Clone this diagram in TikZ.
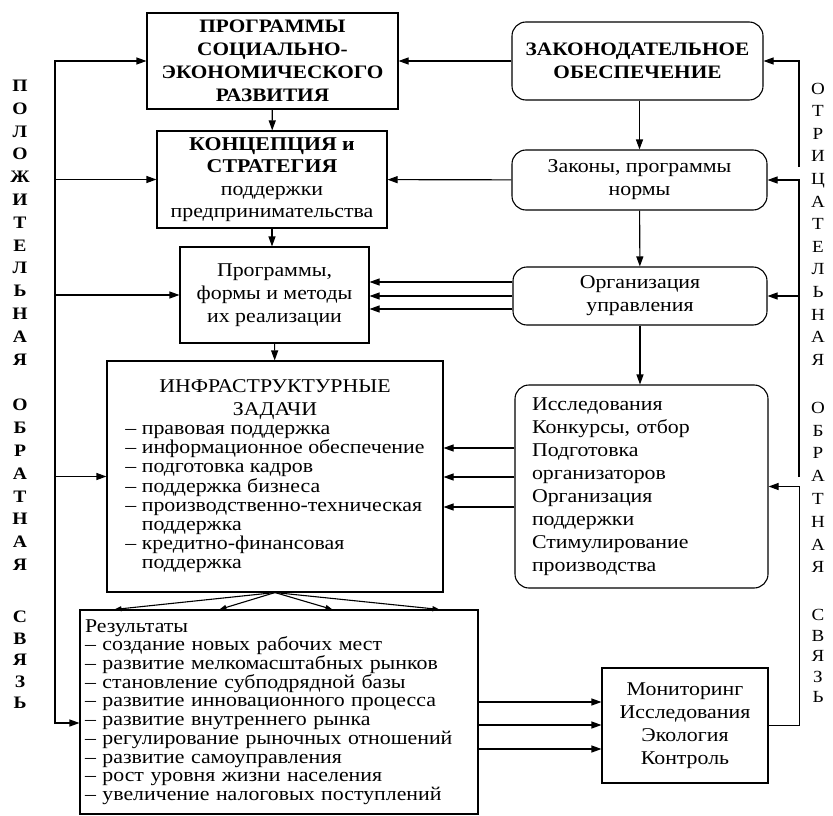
\documentclass[tikz,border=0pt]{standalone}
\usepackage{fontspec}
\setmainfont[FakeStretch=1.12]{Liberation Serif}
\usetikzlibrary{arrows.meta}

\begin{document}
\begin{tikzpicture}[x=1pt,y=-1pt,line width=1.1pt,
  box/.style={draw,inner sep=0pt,font=\fontsize{19.5}{23}\selectfont},
  rbox/.style={box,rounded corners=14pt},
  arr/.style={-{Triangle[length=10pt,width=7pt]}},
  dbl/.style={{Triangle[length=10pt,width=7pt]}-{Triangle[length=10pt,width=7pt]}},
  sarr/.style={-{Triangle[length=7pt,width=5pt]}},
  vtext/.style={inner sep=0pt,align=center}]
\useasboundingbox (0,0) rectangle (833,816);

% left column
\node[box,align=center,minimum width=251pt,minimum height=96pt,font=\bfseries\fontsize{19}{23}\selectfont] (prog) at (272.5,61) {ПРОГРАММЫ\\СОЦИАЛЬНО-\\ЭКОНОМИЧЕСКОГО\\РАЗВИТИЯ};
\node[box,align=center,minimum width=230pt,minimum height=97pt,font=\fontsize{19.5}{22.3}\selectfont] (konc) at (272,179.5) {\textbf{КОНЦЕПЦИЯ и}\\\textbf{СТРАТЕГИЯ}\\поддержки\\предпринимательства};
\node[box,align=center,minimum width=189pt,minimum height=96pt] (form) at (274.5,295) {Программы,\\формы и методы\\их реализации};
\node[box,minimum width=336pt,minimum height=231pt,font=\fontsize{19.5}{19}\selectfont] (infra) at (275,476.5) {\begin{tabular}{@{}l@{}}
\multicolumn{1}{@{}c@{}}{ИНФРАСТРУКТУРНЫЕ}\\[4pt]
\multicolumn{1}{@{}c@{}}{ЗАДАЧИ}\\
– правовая поддержка\\
– информационное обеспечение\\
– подготовка кадров\\
– поддержка бизнеса\\
– производственно-техническая\\
\phantom{– }поддержка\\
– кредитно-финансовая\\
\phantom{– }поддержка
\end{tabular}};
\node[box,align=left,text width=388pt,minimum width=398pt,minimum height=204pt,font=\fontsize{19.5}{18.7}\selectfont] (res) at (279,712) {Результаты\\
– создание новых рабочих мест\\
– развитие мелкомасштабных рынков\\
– становление субподрядной базы\\
– развитие инновационного процесса\\
– развитие внутреннего рынка\\
– регулирование рыночных отношений\\
– развитие самоуправления\\
– рост уровня жизни населения\\
– увеличение налоговых поступлений};

% right column
\node[rbox,align=center,minimum width=251pt,minimum height=78pt,font=\bfseries\fontsize{19}{23}\selectfont] (zak) at (637.5,61) {ЗАКОНОДАТЕЛЬНОЕ\\ОБЕСПЕЧЕНИЕ};
\node[rbox,align=center,minimum width=255pt,minimum height=60pt] (zakony) at (639.5,180) {Законы, программы\\нормы};
\node[rbox,align=center,minimum width=254pt,minimum height=58pt] (org) at (640,296) {Организация\\управления};
\node[rbox,align=left,text width=219pt,minimum width=253pt,minimum height=203pt] (issl) at (641.5,486.5) {Исследования\\Конкурсы, отбор\\Подготовка\\организаторов\\Организация\\поддержки\\Стимулирование\\производства};
\node[box,align=center,minimum width=166pt,minimum height=115pt] (mon) at (685,725.5) {Мониторинг\\Исследования\\Экология\\Контроль};

% vertical captions
\node[vtext,font=\bfseries\fontsize{17.5}{22.8}\selectfont] (pos1) at (20,222.5) {П\\О\\Л\\О\\Ж\\И\\Т\\Е\\Л\\Ь\\Н\\А\\Я};
\node[vtext,font=\bfseries\fontsize{17.5}{22.8}\selectfont] (pos2) at (20,485) {О\\Б\\Р\\А\\Т\\Н\\А\\Я};
\node[vtext,font=\bfseries\fontsize{17.5}{21.5}\selectfont] (pos3) at (20,660) {С\\В\\Я\\З\\Ь};
\node[vtext,font=\fontsize{17}{22.6}\selectfont] (neg1) at (818,224) {О\\Т\\Р\\И\\Ц\\А\\Т\\Е\\Л\\Ь\\Н\\А\\Я};
\node[vtext,font=\fontsize{17}{22.8}\selectfont] (neg2) at (818,487.5) {О\\Б\\Р\\А\\Т\\Н\\А\\Я};
\node[vtext,font=\fontsize{17}{20.5}\selectfont] (neg3) at (818,656) {С\\В\\Я\\З\\Ь};

% main chain
\draw[arr] (prog) -- (konc);
\draw[arr] (konc.south) -- (konc.south |- form.north);
\draw[arr] (form) -- (infra);
\draw[sarr] (infra.south) -- ([xshift=35pt]res.north west);
\draw[sarr] (infra.south) -- ([xshift=140pt]res.north west);
\draw[sarr] (infra.south) -- ([xshift=253pt]res.north west);
\draw[sarr] (infra.south) -- ([xshift=360pt]res.north west);

\draw[arr] (zak) -- (prog);
\draw[arr] (zakony.north |- zak.south) -- (zakony.north);
\draw[arr] (zakony) -- (konc);
\draw[arr] (zakony) -- (org);
\draw[arr] (org.south) -- (org.south |- issl.north);

\coordinate (o1) at ([yshift=14pt]org.west);
\coordinate (o2) at (org.west);
\coordinate (o3) at ([yshift=-13pt]org.west);
\draw[arr] (o1) -- (o1 -| form.east);
\draw[arr] (o2) -- (o2 -| form.east);
\draw[arr] (o3) -- (o3 -| form.east);

\coordinate (i1) at ([yshift=38.5pt]issl.west);
\coordinate (i2) at ([yshift=9.5pt]issl.west);
\coordinate (i3) at ([yshift=-20.5pt]issl.west);
\draw[arr] (i1) -- (i1 -| infra.east);
\draw[arr] (i2) -- (i2 -| infra.east);
\draw[arr] (i3) -- (i3 -| infra.east);

\coordinate (r1) at ([yshift=10pt]res.east);
\coordinate (r2) at ([yshift=-13pt]res.east);
\coordinate (r3) at ([yshift=-37pt]res.east);
\draw[arr] (r1) -- (r1 -| mon.west);
\draw[arr] (r2) -- (r2 -| mon.west);
\draw[arr] (r3) -- (r3 -| mon.west);

% positive feedback
\coordinate (lbot) at (55,723);
\draw[dbl] (prog.west) -| (lbot) -- (lbot -| res.west);
\draw[arr] (konc.west -| lbot) -- (konc.west);
\draw[arr] (form.west -| lbot) -- (form.west);
\draw[arr] (infra.west -| lbot) -- (infra.west);

% negative feedback
\draw[arr] (mon.east) -- ++(31,0) |- (issl.east);
\coordinate (fb1) at (799,477);
\draw[arr] (fb1) |- (zakony.east);
\draw[arr] (fb1 |- org.east) -- (org.east);
\coordinate (fb2) at (799,167);
\draw[arr] (fb2) |- (zak.east);
\end{tikzpicture}
\end{document}
